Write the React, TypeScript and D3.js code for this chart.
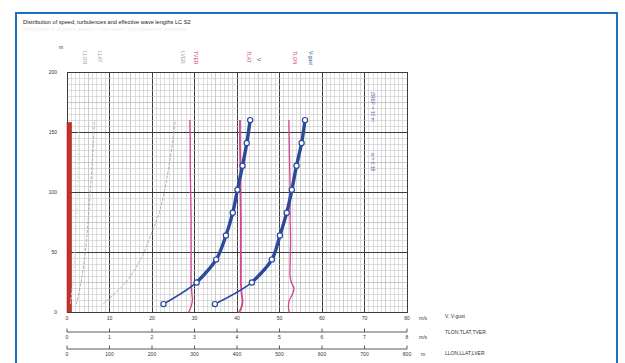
import * as d3 from 'd3';

// heights of the measurement points (m)
const heights = [7, 25, 44, 64, 83, 102, 122, 141, 160];
// mean speed and gust speed (m/s)
const vMean = [22.7, 30.5, 35.1, 37.4, 39.0, 40.1, 41.3, 42.3, 43.1];
const vGust = [34.8, 43.5, 48.2, 50.1, 51.7, 52.9, 54.0, 55.2, 56.0];

// effective wave lengths (m)
const lLon = [8, 14, 18, 21, 23, 25, 26, 27, 28];
const lLat = [22, 33, 41, 47, 51, 55, 59, 62, 65];
const lVer = [85, 138, 173, 197, 217, 230, 240, 248, 255];

// turbulence profiles (m/s), finer height steps
const tHeights = [0, 5, 10, 15, 20, 25, 30, 40, 60, 80, 100, 120, 140, 160];
const tVer = [2.86, 2.92, 2.95, 2.94, 2.93, 2.92, 2.92, 2.92, 2.92, 2.92, 2.91, 2.9, 2.9, 2.89];
const tLat = [4.05, 4.11, 4.13, 4.11, 4.1, 4.09, 4.09, 4.09, 4.09, 4.09, 4.08, 4.08, 4.07, 4.07];
const tLon = [5.23, 5.21, 5.23, 5.3, 5.34, 5.28, 5.25, 5.25, 5.26, 5.25, 5.25, 5.24, 5.23, 5.22];

const structureHeight = 158;

const vTicks = [0, 10, 20, 30, 40, 50, 60, 70, 80];
const tTicks = [0, 1, 2, 3, 4, 5, 6, 7, 8];
const lTicks = [0, 100, 200, 300, 400, 500, 600, 700, 800];
const hTicks = [0, 50, 100, 150, 200];

const topLabels = [
  { text: 'LLON', color: '#a0a0a0', series: 'L', v: lLon[lLon.length - 1] + 9 },
  { text: 'LLAT', color: '#a0a0a0', series: 'L', v: lLat[lLat.length - 1] + 9 },
  { text: 'LVER', color: '#a0a0a0', series: 'L', v: lVer[lVer.length - 1] + 14 },
  { text: 'TVER', color: '#d4438f', series: 'T', v: tVer[tVer.length - 1] + 0.1 },
  { text: 'TLAT', color: '#d4438f', series: 'T', v: tLat[tLat.length - 1] + 0.16 },
  { text: 'V', color: '#2b4a9c', series: 'V', v: vMean[vMean.length - 1] + 1.6 },
  { text: 'TLON', color: '#d4438f', series: 'T', v: tLon[tLon.length - 1] + 0.1 },
  { text: 'V-gust', color: '#2b4a9c', series: 'V', v: vGust[vGust.length - 1] + 0.9 },
];

const FONT = '"Liberation Sans", Arial, sans-serif';

const App = () => {
  const x = d3.scaleLinear([0, 80], [67, 407]);
  const xT = d3.scaleLinear([0, 8], [67, 407]);
  const xL = d3.scaleLinear([0, 800], [67, 407]);
  const y = d3.scaleLinear([0, 200], [312.5, 72]);

  const [x0, x1] = x.range();
  const [y0, y1] = y.range();

  const minorX = d3.range(0, 81, 1);
  const minorY = d3.range(0, 201, 5);

  const vLine = d3
    .line<number>()
    .x((d) => x(d))
    .y((d, i) => y(heights[i]))
    .curve(d3.curveCatmullRom);

  const lLine = d3
    .line<number>()
    .x((d) => xL(d))
    .y((d, i) => y(heights[i]))
    .curve(d3.curveCatmullRom);

  const tLine = d3
    .line<number>()
    .x((d) => xT(d))
    .y((d, i) => y(tHeights[i]))
    .curve(d3.curveCatmullRom);

  const upperLine = d3
    .line<number>()
    .x((d) => x(d))
    .y((d, i) => y(heights[i + 1]))
    .curve(d3.curveCatmullRom);

  const blue = '#2b4a9c';
  const pink = '#d4438f';

  const labelX = (l) => (l.series === 'L' ? xL(l.v) : l.series === 'T' ? xT(l.v) : x(l.v));

  return (
    <div style={{ position: 'absolute', left: 0, top: 0 }}>
      <svg width={625} height={363} style={{ display: 'block', background: '#fff' }} fontFamily={FONT}>
        <rect x={16} y={13} width={601} height={360} fill="none" stroke="#1f6fbf" strokeWidth={2} />
        <text x={23} y={24} fontSize={5.6} fill="#222">
          Distribution of speed, turbulences and effective wave lengths LC S2
        </text>
        <text x={23} y={31} fontSize={5} fill="#f1efe2">
          Wind profile at structure location, mean speed, gust speed and turbulence
        </text>

        {/* grid */}
        <g shapeRendering="crispEdges">
          {minorX.map((d) => (
            <line
              key={'mx' + d}
              x1={x(d)}
              x2={x(d)}
              y1={y0}
              y2={y1}
              stroke={d % 10 === 0 ? '#3c3c3c' : d % 5 === 0 ? '#a8a8a8' : '#c8c8c8'}
              strokeWidth={d % 10 === 0 ? 1 : 0.6}
            />
          ))}
          {minorY.map((d) => (
            <line
              key={'my' + d}
              x1={x0}
              x2={x1}
              y1={y(d)}
              y2={y(d)}
              stroke={d % 50 === 0 ? '#3c3c3c' : d % 25 === 0 ? '#a8a8a8' : '#c8c8c8'}
              strokeWidth={d % 50 === 0 ? 1 : 0.6}
            />
          ))}
          <rect x={x0} y={y1} width={x1 - x0} height={y0 - y1} fill="none" stroke="#3c3c3c" strokeWidth={1} />
        </g>

        {/* y axis labels */}
        {hTicks.map((d) => (
          <text key={'h' + d} x={57} y={y(d) + 1.8} fontSize={5} textAnchor="end" fill="#333">
            {d}
          </text>
        ))}
        <text x={59} y={49} fontSize={5} fill="#333">
          m
        </text>

        {/* structure */}
        <rect
          x={x(0)}
          y={y(structureHeight)}
          width={4.5}
          height={y(0) - y(structureHeight)}
          fill="#c9302c"
          stroke="#8e1f1c"
          strokeWidth={0.5}
        />

        {/* wave lengths */}
        {[lLon, lLat, lVer].map((s, i) => (
          <path
            key={'l' + i}
            d={lLine(s)}
            fill="none"
            stroke={i === 0 ? '#dadada' : '#a8a8a8'}
            strokeWidth={0.9}
            strokeDasharray="3 1.5"
          />
        ))}

        {/* turbulences */}
        {[tVer, tLat, tLon].map((s, i) => (
          <path key={'t' + i} d={tLine(s)} fill="none" stroke={pink} strokeWidth={i === 1 ? 1.8 : 1.3} />
        ))}

        {/* speeds */}
        {[vMean, vGust].map((s, i) => (
          <g key={'v' + i}>
            <path d={vLine(s)} fill="none" stroke={blue} strokeWidth={1.6} />
            <path d={upperLine(s.slice(1))} fill="none" stroke={blue} strokeWidth={3.4} />
            {s.map((d, j) => (
              <circle key={j} cx={x(d)} cy={y(heights[j])} r={2.6} fill="#fff" stroke={blue} strokeWidth={1.2} />
            ))}
          </g>
        ))}

        {/* series labels */}
        {topLabels.map((l) => (
          <text
            key={l.text}
            transform={`translate(${labelX(l)},${l.text === 'V' ? 58 : 51}) rotate(90)`}
            fontSize={5}
            fill={l.color}
          >
            {l.text}
          </text>
        ))}

        {/* remarks */}
        <text transform={`translate(${x(71.5)},92) rotate(90)`} fontSize={5} fill="#5a6fb8">
          ZREF = 10 m
        </text>
        <text transform={`translate(${x(71.5)},153) rotate(90)`} fontSize={5} fill="#5a6fb8">
          a = 0.16
        </text>

        {/* V scale */}
        {vTicks.map((d) => (
          <text key={'vt' + d} x={x(d)} y={319.5} fontSize={5} textAnchor="middle" fill="#333">
            {d}
          </text>
        ))}
        <text x={419} y={319.5} fontSize={5} fill="#333">
          m/s
        </text>
        <text x={445} y={318} fontSize={5} fill="#333">
          V, V-gust
        </text>

        {/* T scale */}
        <line x1={xT(0)} x2={xT(8)} y1={332} y2={332} stroke="#333" strokeWidth={0.8} />
        {tTicks.map((d) => (
          <g key={'tt' + d}>
            <line x1={xT(d)} x2={xT(d)} y1={328.5} y2={332} stroke="#333" strokeWidth={0.8} />
            <text x={xT(d)} y={339} fontSize={5} textAnchor="middle" fill="#333">
              {d}
            </text>
          </g>
        ))}
        <text x={419} y={339} fontSize={5} fill="#333">
          m/s
        </text>
        <text x={445} y={334} fontSize={5} fill="#333">
          TLON,TLAT,TVER
        </text>

        {/* L scale */}
        <line x1={xL(0)} x2={xL(800)} y1={349} y2={349} stroke="#333" strokeWidth={0.8} />
        {lTicks.map((d) => (
          <g key={'lt' + d}>
            <line x1={xL(d)} x2={xL(d)} y1={345.5} y2={349} stroke="#333" strokeWidth={0.8} />
            <text x={xL(d)} y={356} fontSize={5} textAnchor="middle" fill="#333">
              {d}
            </text>
          </g>
        ))}
        <text x={421} y={356} fontSize={5} fill="#333">
          m
        </text>
        <text x={445} y={355} fontSize={5} fill="#333">
          LLON,LLAT,LVER
        </text>
      </svg>
    </div>
  );
};

export default App;
